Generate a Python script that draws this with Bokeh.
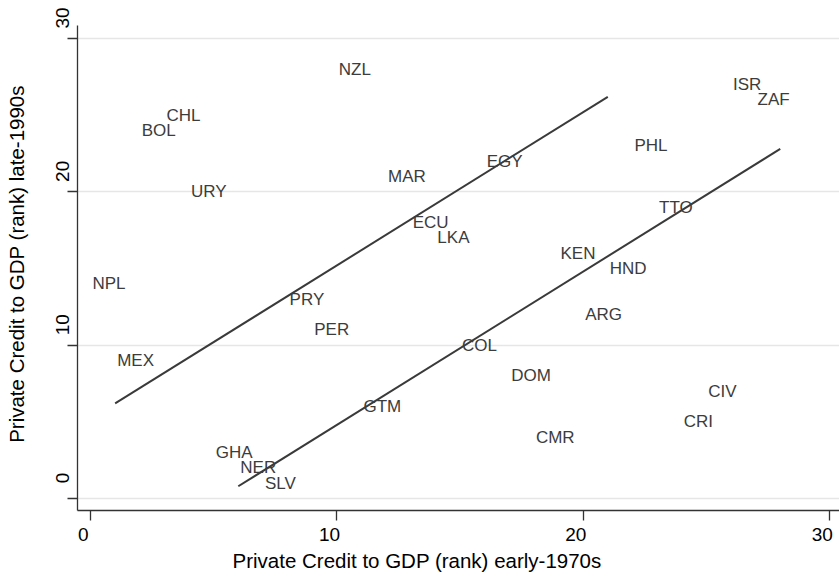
import math
from bokeh.plotting import figure
from bokeh.models import Range1d, ColumnDataSource, FixedTicker, Title, LinearAxis
from bokeh.embed import file_html
from bokeh.resources import INLINE
from bokeh.core.properties import value

# ---- data ----
countries = ["NPL", "MEX", "BOL", "CHL", "URY", "GHA", "NER", "SLV", "PRY", "PER",
             "NZL", "GTM", "MAR", "ECU", "LKA", "COL", "EGY", "DOM", "CMR", "KEN",
             "ARG", "HND", "PHL", "TTO", "CRI", "CIV", "ISR", "ZAF"]
rank_early70s = [0, 1, 2, 3, 4, 5, 6, 7, 8, 9,
                 10, 11, 12, 13, 14, 15, 16, 17, 18, 19,
                 20, 21, 22, 23, 24, 25, 26, 27]
rank_late90s = [14, 9, 24, 25, 20, 3, 2, 1, 13, 11,
                28, 6, 21, 18, 17, 10, 22, 8, 4, 16,
                12, 15, 23, 19, 5, 7, 27, 26]

upper_x = [1, 21]
upper_y = [6.2, 26.2]
lower_x = [6, 28]
lower_y = [0.8, 22.8]

x_ticks = [0, 10, 20, 30]
y_ticks = [0, 10, 20, 30]

x_title = "Private Credit to GDP (rank) early-1970s"
y_title = "Private Credit to GDP (rank) late-1990s"

FONT = "Liberation Sans"

X0, X1 = -0.528, 30.406          # visible x range
Y0, Y1 = -0.78, 30.85            # extent of the drawn y axis
Y1_FRAME = 31.37                 # frame reaches a bit higher (room for top label)
YLAB_SHIFT = 1.337               # y tick labels sit ~20px above their ticks
XLAB_SHIFT = 0.296               # x tick labels sit ~7px left of their ticks

p = figure(width=839, height=581, output_backend="svg", toolbar_location=None,
           x_range=Range1d(X0, X1), y_range=Range1d(Y0, Y1_FRAME),
           min_border_left=77, min_border_right=0, min_border_top=17,
           min_border_bottom=71)
p.outline_line_color = None
p.background_fill_color = "white"
p.border_fill_color = "white"
p.extra_y_ranges = {"ylab": Range1d(Y0 - YLAB_SHIFT, Y1_FRAME - YLAB_SHIFT)}
p.extra_x_ranges = {"xlab": Range1d(X0 + XLAB_SHIFT, X1 + XLAB_SHIFT)}

# grid
p.xgrid.visible = False
p.ygrid.ticker = FixedTicker(ticks=y_ticks)
p.ygrid.grid_line_color = "#e6e6e6"
p.ygrid.grid_line_width = 1.6


def style_rule(ax):
    ax.major_label_overrides = {t: "" for t in [0, 10, 20, 30]}
    ax.major_label_standoff = 0
    ax.major_tick_out = 10
    ax.major_tick_in = 0
    ax.minor_tick_line_color = None
    ax.axis_line_color = "#333333"
    ax.axis_line_width = 1.3
    ax.major_tick_line_color = "#333333"
    ax.major_tick_line_width = 1.3


def style_labels(ax, standoff):
    ax.axis_line_color = None
    ax.major_tick_line_color = None
    ax.minor_tick_line_color = None
    ax.major_tick_out = 0
    ax.major_tick_in = 0
    ax.major_label_standoff = standoff
    ax.major_label_text_font = FONT
    ax.major_label_text_font_size = "19px"
    ax.major_label_text_color = "black"


# x axis: line + ticks
xa = p.xaxis[0]
xa.ticker = FixedTicker(ticks=x_ticks)
style_rule(xa)

# x tick labels (shifted slightly left, as in the reference)
xl = LinearAxis(x_range_name="xlab", ticker=FixedTicker(ticks=x_ticks))
style_labels(xl, 7)
p.add_layout(xl, "below")

# y axis: line + ticks
ya = p.yaxis[0]
ya.ticker = FixedTicker(ticks=y_ticks)
ya.bounds = (Y0, Y1)
style_rule(ya)

# y tick labels (rotated, shifted up along the axis as in the reference) + title
yl = LinearAxis(y_range_name="ylab", ticker=FixedTicker(ticks=y_ticks))
style_labels(yl, -2)
yl.major_label_orientation = "vertical"
yl.axis_label = y_title
yl.axis_label_text_font = FONT
yl.axis_label_text_font_size = "20.5px"
yl.axis_label_text_font_style = "normal"
yl.axis_label_text_color = "black"
yl.axis_label_standoff = 26
p.add_layout(yl, "left")

# x title below
xt = Title(text=x_title, align="left", offset=155, text_font=FONT,
           text_font_size="20.5px", text_font_style="normal", standoff=7,
           text_color="black")
p.add_layout(xt, "below")

# fitted lines
p.line(upper_x, upper_y, line_color="#3a3a3a", line_width=2)
p.line(lower_x, lower_y, line_color="#3a3a3a", line_width=2)

# country labels
src = ColumnDataSource(dict(x=rank_early70s, y=rank_late90s, name=countries))
p.text(x="x", y="y", text="name", source=src, x_offset=2,
       text_align="left", text_baseline="middle",
       text_font=value(FONT), text_font_size="17px", text_color="#3c3c3c")

open("out.html", "w").write(file_html(p, INLINE))
